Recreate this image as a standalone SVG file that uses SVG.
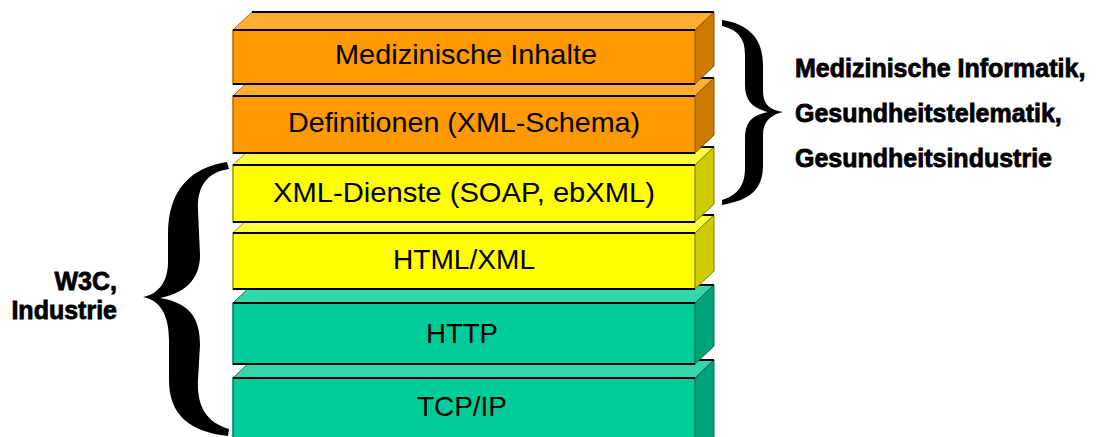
<svg xmlns="http://www.w3.org/2000/svg" width="1097" height="437" viewBox="0 0 1097 437">
<style>
.lbl{font-family:"Liberation Sans",Arial,sans-serif;font-size:28px;fill:#000;text-anchor:middle}
.note{font-family:"Liberation Sans",Arial,sans-serif;font-size:25px;font-weight:bold;fill:#000;stroke:#000;stroke-width:0.8px}
.edge{stroke:#000;stroke-width:2;fill:none}
.o .front{fill:#FF9900;stroke:#B36B00;stroke-width:1.5}
.o .top{fill:#FFAD33;stroke:#B36B00;stroke-width:1}
.o .side{fill:#CC7A00;stroke:#8A5200;stroke-width:1}
.y .front{fill:#FFFF00;stroke:#999900;stroke-width:1.5}
.y .top{fill:#FFFF40;stroke:#999900;stroke-width:1}
.y .side{fill:#CCCC00;stroke:#808000;stroke-width:1}
.g .front{fill:#00CC99;stroke:#007A5C;stroke-width:1.5}
.g .top{fill:#33D6AD;stroke:#007A5C;stroke-width:1}
.g .side{fill:#00A37A;stroke:#006B50;stroke-width:1}
.brace{fill:#000}
</style>
<rect width="1097" height="437" fill="#fff"/>

<g id="box-tcpip" class="g">
  <polygon class="top" points="233,378 252,360 714,360 695,378"/>
  <polygon class="side" points="695,378 714,360 714,445 695,445"/>
  <rect class="front" x="233" y="378" width="462" height="70"/>
  <line class="edge" x1="233" y1="378" x2="695" y2="378"/>
  <line class="edge" x1="252" y1="360" x2="714" y2="360" stroke-width="1"/>
  <text class="lbl" x="462" y="416" textLength="90" lengthAdjust="spacingAndGlyphs">TCP/IP</text>
</g>
<g id="box-http" class="g">
  <polygon class="top" points="233,303 252,285 714,285 695,303"/>
  <polygon class="side" points="695,303 714,285 714,346 695,364"/>
  <rect class="front" x="233" y="303" width="462" height="61"/>
  <line class="edge" x1="233" y1="303" x2="695" y2="303"/>
  <line class="edge" x1="233" y1="364" x2="695" y2="364"/>
  <line class="edge" x1="252" y1="285" x2="714" y2="285" stroke-width="1"/>
  <text class="lbl" x="462" y="343" textLength="72" lengthAdjust="spacingAndGlyphs">HTTP</text>
</g>
<g id="box-htmlxml" class="y">
  <polygon class="top" points="233,233 252,215 714,215 695,233"/>
  <polygon class="side" points="695,233 714,215 714,271 695,289"/>
  <rect class="front" x="233" y="233" width="462" height="56"/>
  <line class="edge" x1="233" y1="233" x2="695" y2="233"/>
  <line class="edge" x1="233" y1="289" x2="695" y2="289"/>
  <line class="edge" x1="252" y1="215" x2="714" y2="215" stroke-width="1"/>
  <text class="lbl" x="464" y="269" textLength="142" lengthAdjust="spacingAndGlyphs">HTML/XML</text>
</g>
<g id="box-xmldienste" class="y">
  <polygon class="top" points="233,165 252,147 714,147 695,165"/>
  <polygon class="side" points="695,165 714,147 714,204 695,222"/>
  <rect class="front" x="233" y="165" width="462" height="57"/>
  <line class="edge" x1="233" y1="165" x2="695" y2="165"/>
  <line class="edge" x1="233" y1="222" x2="695" y2="222"/>
  <line class="edge" x1="252" y1="147" x2="714" y2="147" stroke-width="1"/>
  <text class="lbl" x="464" y="202" textLength="382" lengthAdjust="spacingAndGlyphs">XML-Dienste (SOAP, ebXML)</text>
</g>
<g id="box-definitionen" class="o">
  <polygon class="top" points="233,96 252,78 714,78 695,96"/>
  <polygon class="side" points="695,96 714,78 714,135 695,153"/>
  <rect class="front" x="233" y="96" width="462" height="57"/>
  <line class="edge" x1="233" y1="96" x2="695" y2="96"/>
  <line class="edge" x1="233" y1="153" x2="695" y2="153"/>
  <line class="edge" x1="252" y1="78" x2="714" y2="78" stroke-width="1"/>
  <text class="lbl" x="464" y="132" textLength="352" lengthAdjust="spacingAndGlyphs">Definitionen (XML-Schema)</text>
</g>
<g id="box-inhalte" class="o">
  <polygon class="top" points="233,30 252,12 714,12 695,30"/>
  <polygon class="side" points="695,30 714,12 714,66 695,84"/>
  <rect class="front" x="233" y="30" width="462" height="54"/>
  <line class="edge" x1="233" y1="30" x2="695" y2="30"/>
  <line class="edge" x1="233" y1="84" x2="695" y2="84"/>
  <line class="edge" x1="252" y1="12" x2="714" y2="12" stroke-width="1.5"/>
  <text class="lbl" x="466" y="64" textLength="262" lengthAdjust="spacingAndGlyphs">Medizinische Inhalte</text>
</g>

<g id="connectors">
  <path class="brace" d="M227,162 C190,168 168,190 168,235 L168,262 C168,285 155,295 143,297 C160,300 169,315 169,340 L169,380 C169,415 190,432 228,436 L229,429 C205,422 197,405 198,380 L200,345 C200,318 190,303 160,298 C190,292 200,275 200,255 L198,210 C197,185 208,172 229,169 Z"/>
  <path class="brace" d="M722,20 C750,24 763,40 763,65 L763,90 C763,105 770,110 783,112 C770,115 763,122 763,135 L763,165 C763,190 750,200 722,205 L722,200 C738,195 745,185 745,168 L745,138 C745,122 752,115 768,112 C752,108 745,100 745,85 L745,55 C745,38 738,30 722,26 Z"/>
</g>

<g id="label-w3c">
  <text class="note" x="117" y="290" text-anchor="end">W3C,</text>
  <text class="note" x="117" y="319" text-anchor="end">Industrie</text>
</g>
<g id="label-medizin">
  <text class="note" x="795" y="77">Medizinische Informatik,</text>
  <text class="note" x="795" y="122">Gesundheitstelematik,</text>
  <text class="note" x="795" y="167">Gesundheitsindustrie</text>
</g>
</svg>
